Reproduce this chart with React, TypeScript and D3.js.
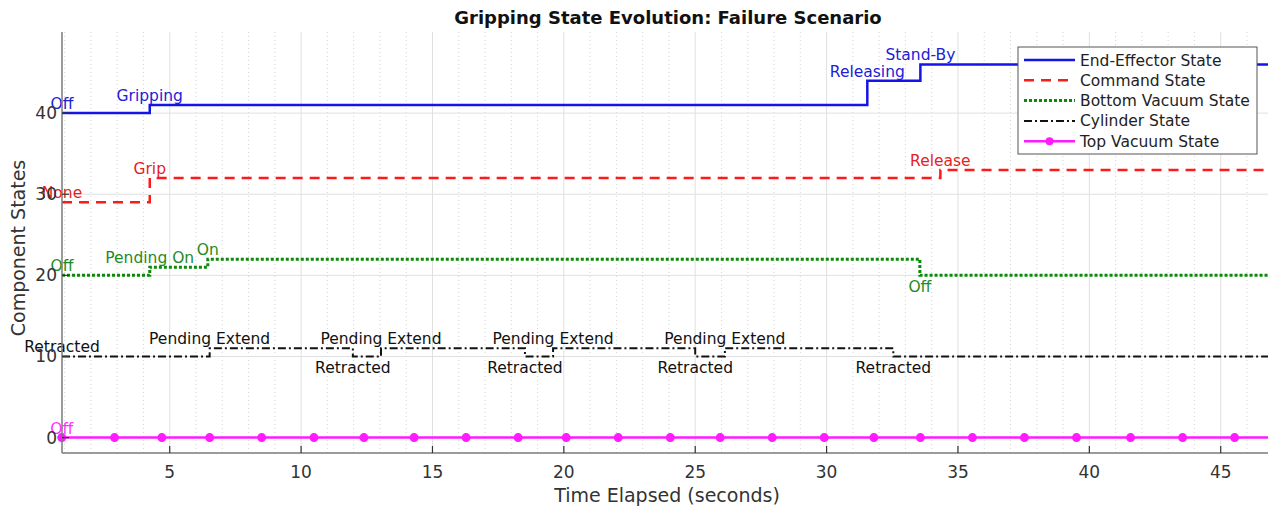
import React from 'react';
import * as d3 from 'd3';

// time span of the recording (seconds)
const timeStart = 0.9;
const timeEnd = 46.8;

// End-Effector state
const endEffectorTimes = [0.9, 4.24, 31.55, 33.57];
const endEffectorValues = [40, 41, 44, 46];
const endEffectorLabels = ['Off', 'Gripping', 'Releasing', 'Stand-By'];

// Command state
const commandTimes = [0.9, 4.24, 34.33];
const commandValues = [29, 32, 33];
const commandLabels = ['None', 'Grip', 'Release'];

// Bottom vacuum state
const bottomTimes = [0.9, 4.24, 6.45, 33.55];
const bottomValues = [20, 21, 22, 20];
const bottomLabels = ['Off', 'Pending On', 'On', 'Off'];

// Cylinder state
const cylinderTimes = [0.9, 6.52, 11.97, 13.04, 18.52, 19.59, 25.0, 26.13, 32.54];
const cylinderValues = [10, 11, 10, 11, 10, 11, 10, 11, 10];
const cylinderLabels = ['Retracted', 'Pending Extend', 'Retracted', 'Pending Extend', 'Retracted',
  'Pending Extend', 'Retracted', 'Pending Extend', 'Retracted'];

// Top vacuum state (sampled, drawn with markers)
const topTimes = [0.89, 2.9, 4.7, 6.52, 8.5, 10.49, 12.39, 14.3, 16.28, 18.26, 20.09, 22.07, 24.05,
  25.95, 27.93, 29.91, 31.8, 33.57, 35.55, 37.53, 39.51, 41.57, 43.55, 45.53];
const topValues = topTimes.map(() => 0);
const topLabels = ['Off'];

const xTicks = [5, 10, 15, 20, 25, 30, 35, 40, 45];
const yTicks = [0, 10, 20, 30, 40];

const W = 1275, H = 509;
const margin = { left: 62, right: 7, top: 32, bottom: 56 };
const font = 'DejaVu Sans, sans-serif';

type Series = {
  name: string; times: number[]; values: number[]; labels: string[];
  color: string; textColor: string; width: number; dash?: string; markers?: boolean;
};

const series: Series[] = [
  { name: 'End-Effector State', times: endEffectorTimes, values: endEffectorValues, labels: endEffectorLabels, color: '#1414e6', textColor: '#2020d8', width: 2.5 },
  { name: 'Command State', times: commandTimes, values: commandValues, labels: commandLabels, color: '#ff1a1a', textColor: '#e61e1e', width: 2.5, dash: '10,7' },
  { name: 'Bottom Vacuum State', times: bottomTimes, values: bottomValues, labels: bottomLabels, color: '#0a8a0a', textColor: '#1f8a1f', width: 3, dash: '3,2' },
  { name: 'Cylinder State', times: cylinderTimes, values: cylinderValues, labels: cylinderLabels, color: '#111111', textColor: '#111111', width: 2, dash: '8,3,2,3' },
  { name: 'Top Vacuum State', times: topTimes, values: topValues, labels: topLabels, color: '#ff1aff', textColor: '#ff33ff', width: 2.5, markers: true },
];

export default function App() {
  const x = d3.scaleLinear().domain([timeStart, timeEnd]).range([margin.left, W - margin.right]);
  const y = d3.scaleLinear().domain([-1.9, 50]).range([H - margin.bottom, margin.top]);

  const stepLine = d3.line<[number, number]>().x(d => x(d[0])).y(d => y(d[1])).curve(d3.curveStepAfter);

  const minorTicks = d3.range(1, 47).filter(t => t % 5 !== 0);
  const [x0, x1] = x.range();
  const [yb, yt] = y.range();

  return (
    <svg width={W} height={H} style={{ position: 'absolute', left: 0, top: 0, background: '#fff' }} fontFamily={font}>
      {/* grid */}
      <g>
        {minorTicks.map(t => (
          <line key={'m' + t} x1={x(t)} x2={x(t)} y1={yt} y2={yb} stroke="#d4d4d4" strokeDasharray="1,3" strokeWidth={1} />
        ))}
        {xTicks.map(t => (
          <line key={'gx' + t} x1={x(t)} x2={x(t)} y1={yt} y2={yb} stroke="#e0e0e0" strokeWidth={1} />
        ))}
        {yTicks.map(t => (
          <line key={'gy' + t} x1={x0} x2={x1} y1={y(t)} y2={y(t)} stroke="#e0e0e0" strokeWidth={1} />
        ))}
      </g>

      {/* series */}
      {series.map(s => {
        const pts: [number, number][] = s.times.map((t, i) => [t, s.values[i]]);
        pts.push([timeEnd, s.values[s.values.length - 1]]);
        return (
          <g key={s.name}>
            <path d={stepLine(pts) || ''} fill="none" stroke={s.color} strokeWidth={s.width} strokeDasharray={s.dash} />
            {s.markers && s.times.map((t, i) => (
              <circle key={i} cx={x(t)} cy={y(s.values[i])} r={4.5} fill={s.color} />
            ))}
          </g>
        );
      })}

      {/* state annotations */}
      {series.map(s => s.labels.map((lab, i) => {
        const down = i > 0 && s.values[i] < s.values[i - 1];
        const ty = down ? y(s.values[i]) + 17 : y(s.values[i]) - 4;
        return (
          <text key={s.name + i} x={x(s.times[i])} y={ty} textAnchor="middle" fontSize={15.5} fill={s.textColor}>{lab}</text>
        );
      }))}

      {/* axes */}
      <line x1={x0} x2={x0} y1={yt} y2={yb} stroke="#7a7a7a" strokeWidth={1.5} />
      <line x1={x0} x2={x1} y1={yb} y2={yb} stroke="#7a7a7a" strokeWidth={1.5} />
      {xTicks.map(t => (
        <g key={'xt' + t}>
          <line x1={x(t)} x2={x(t)} y1={yb} y2={yb - 7} stroke="#333" strokeWidth={1.2} />
          <text x={x(t)} y={yb + 25} textAnchor="middle" fontSize={17} fill="#333">{t}</text>
        </g>
      ))}
      {yTicks.map(t => (
        <g key={'yt' + t}>
          <line x1={x0} x2={x0 + 7} y1={y(t)} y2={y(t)} stroke="#333" strokeWidth={1.2} />
          <text x={x0 - 5} y={y(t) + 6} textAnchor="end" fontSize={17} fill="#333">{t}</text>
        </g>
      ))}
      <text x={667} y={502} textAnchor="middle" fontSize={19} fill="#333">Time Elapsed (seconds)</text>
      <text transform={`translate(25,248) rotate(-90)`} textAnchor="middle" fontSize={19} fill="#333">Component States</text>
      <text x={668} y={24} textAnchor="middle" fontSize={18} fontWeight="bold" fill="#111">Gripping State Evolution: Failure Scenario</text>

      {/* legend */}
      <g transform="translate(1018,47)">
        <rect x={0} y={0} width={239} height={107} fill="#fff" stroke="#555" strokeWidth={1} />
        {series.map((s, i) => {
          const ly = 13 + i * 20.3;
          return (
            <g key={'lg' + s.name}>
              <line x1={6} x2={57} y1={ly} y2={ly} stroke={s.color} strokeWidth={s.width} strokeDasharray={s.dash} />
              {s.markers && <circle cx={31.5} cy={ly} r={4} fill={s.color} />}
              <text x={62} y={ly + 5.5} fontSize={15.5} fill="#222">{s.name}</text>
            </g>
          );
        })}
      </g>
    </svg>
  );
}
